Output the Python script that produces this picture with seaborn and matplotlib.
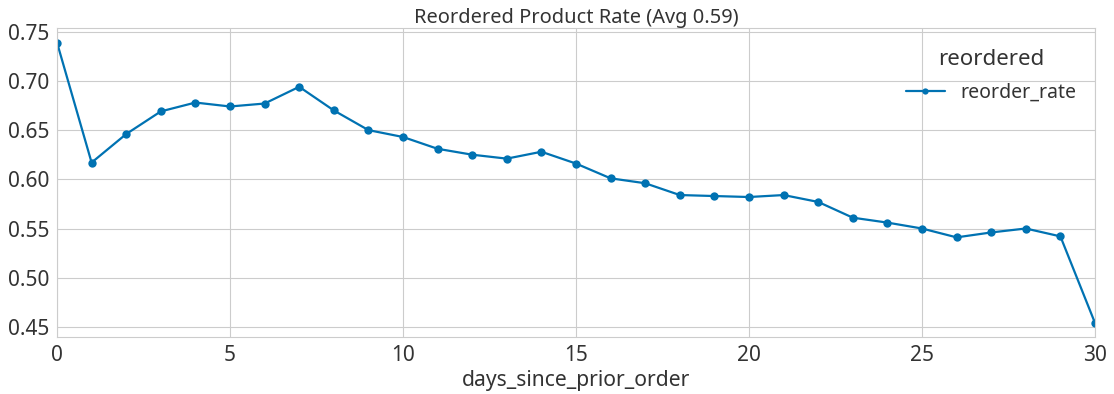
import matplotlib
matplotlib.use("Agg")
import matplotlib.pyplot as plt
import seaborn as sns
import pandas as pd

days = list(range(31))
reorder_rate = [0.739, 0.617, 0.646, 0.669, 0.678, 0.674, 0.677, 0.694, 0.670, 0.650,
                0.643, 0.631, 0.625, 0.621, 0.628, 0.616, 0.601, 0.596, 0.584, 0.583,
                0.582, 0.584, 0.577, 0.561, 0.556, 0.550, 0.541, 0.546, 0.550, 0.542,
                0.454]
series_name = "reorder_rate"
title = "Reordered Product Rate (Avg 0.59)"

df = pd.DataFrame({"days_since_prior_order": days,
                   "value": reorder_rate,
                   "reordered": [series_name] * len(days)})

sns.set_style("whitegrid")
plt.rcParams['font.family'] = ['Noto Sans', 'DejaVu Sans']

fig = plt.figure(figsize=(11.14, 3.94), dpi=100)
ax = fig.add_axes([57/1114, 1 - 337/394, (1095-57)/1114, (337-28.5)/394])
sns.lineplot(data=df, x="days_since_prior_order", y="value", hue="reordered",
             palette=["#0072b2"], marker="o", markersize=6, markeredgewidth=0,
             linewidth=1.6, ax=ax)
ax.set_xlim(0, 30)
ax.set_xticks([0, 5, 10, 15, 20, 25, 30])
ax.set_yticks([0.45, 0.50, 0.55, 0.60, 0.65, 0.70, 0.75])
ax.set_yticklabels([f"{v:.2f}" for v in [0.45, 0.50, 0.55, 0.60, 0.65, 0.70, 0.75]])
ax.tick_params(labelsize=15, colors="#333333", pad=2)
ax.set_ylabel("")
ax.set_xlabel("days_since_prior_order", fontsize=15.2, color="#333333", labelpad=3)
ax.set_title(title, fontsize=14.4, color="#333333", pad=4)
leg = ax.legend(title="reordered", loc="upper right", frameon=False,
                fontsize=14, title_fontsize=16, bbox_to_anchor=(0.999, 0.99),
                handlelength=2.0, handletextpad=0.8, labelspacing=0.3,
                borderaxespad=0.5)
leg._legend_box.sep = 9
for h in leg.legend_handles:
    h.set_markersize(4.5)
for t in leg.get_texts():
    t.set_color("#333333")
leg.get_title().set_color("#333333")
fig.savefig("out.png", dpi=100)
